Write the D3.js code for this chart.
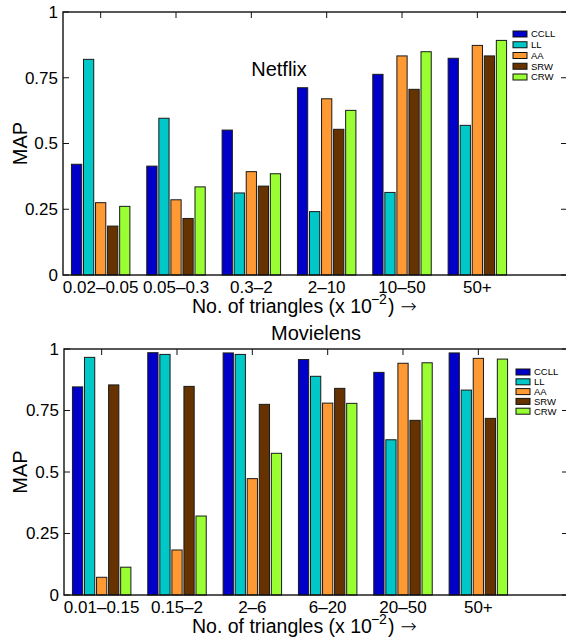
<!DOCTYPE html>
<html>
<head>
<meta charset="utf-8">
<script src="https://cdn.jsdelivr.net/npm/d3@7"></script>
<style>
    html, body { margin: 0; padding: 0; background: #fff; }
    svg { display: block; font-family: "Liberation Sans", Arial, Helvetica, sans-serif; }
</style>
</head>
<body>
<svg id="chart" width="566" height="639"></svg>
<script>
(function() {
"use strict";

var series = ['CCLL', 'LL', 'AA', 'SRW', 'CRW'];
var seriesColors = ['#0000c8', '#00c8c8', '#ff9933', '#663300', '#99ff33'];
var yTicks = [0, 0.25, 0.5, 0.75, 1];
var yTickLabels = ['0', '0.25', '0.5', '0.75', '1'];

var netflixCategories = ['0.02–0.05', '0.05–0.3', '0.3–2', '2–10', '10–50', '50+'];
var netflixCCLL = [0.421, 0.414, 0.551, 0.712, 0.763, 0.824];
var netflixLL   = [0.820, 0.596, 0.312, 0.241, 0.314, 0.569];
var netflixAA   = [0.275, 0.286, 0.393, 0.670, 0.833, 0.873];
var netflixSRW  = [0.186, 0.215, 0.338, 0.554, 0.706, 0.833];
var netflixCRW  = [0.261, 0.335, 0.385, 0.626, 0.849, 0.892];

var movielensCategories = ['0.01–0.15', '0.15–2', '2–6', '6–20', '20–50', '50+'];
var movielensCCLL = [0.846, 0.985, 0.984, 0.957, 0.905, 0.984];
var movielensLL   = [0.966, 0.978, 0.978, 0.889, 0.631, 0.833];
var movielensAA   = [0.072, 0.183, 0.473, 0.780, 0.942, 0.962];
var movielensSRW  = [0.854, 0.848, 0.775, 0.840, 0.710, 0.718];
var movielensCRW  = [0.113, 0.321, 0.576, 0.779, 0.944, 0.959];

var svg = d3.select('#chart');
var color = d3.scaleOrdinal().domain(series).range(seriesColors);

function drawPanel(opts) {
    var box = opts.box;
    var values = [opts.ccll, opts.ll, opts.aa, opts.srw, opts.crw];

    var x = d3.scaleLinear().domain([0.5, 7.19]).range([box.left, box.right]);
    var y = d3.scaleLinear().domain([0, 1]).range([box.bottom, box.top]);
    var step = x(2) - x(1);
    var x1 = d3.scaleBand()
                 .domain(series)
                 .range([-step * 0.388, step * 0.388])
                 .paddingInner(0.15);

    var g = svg.append('g');
    var tickLen = 6;

    // inward ticks on all four sides, drawn under the bars
    var ticks = g.append('g').attr('stroke', '#111').attr('stroke-width', 1);
    opts.categories.forEach(function(c, i) {
        var cx = x(i + 1);
        ticks.append('line').attr('x1', cx).attr('x2', cx).attr('y1', box.bottom).attr('y2', box.bottom - tickLen);
        ticks.append('line').attr('x1', cx).attr('x2', cx).attr('y1', box.top).attr('y2', box.top + tickLen);
    });
    yTicks.forEach(function(t) {
        ticks.append('line').attr('x1', box.left).attr('x2', box.left + tickLen).attr('y1', y(t)).attr('y2', y(t));
        ticks.append('line').attr('x1', box.right).attr('x2', box.right - tickLen).attr('y1', y(t)).attr('y2', y(t));
    });

    var groups = g.selectAll('.group')
                  .data(opts.categories)
                  .enter()
                  .append('g')
                      .attr('class', 'group')
                      .attr('transform', function(d, i) { return 'translate(' + x(i + 1) + ',0)'; });

    groups.selectAll('rect')
          .data(function(d, i) {
              return series.map(function(s, k) { return {key: s, value: values[k][i]}; });
          })
          .enter()
          .append('rect')
              .attr('x', function(d) { return x1(d.key); })
              .attr('y', function(d) { return y(d.value); })
              .attr('width', x1.bandwidth())
              .attr('height', function(d) { return y(0) - y(d.value); })
              .attr('fill', function(d) { return color(d.key); })
              .attr('stroke', '#1a1a1a')
              .attr('stroke-width', 1);

    g.append('rect')
        .attr('x', box.left)
        .attr('y', box.top)
        .attr('width', box.right - box.left)
        .attr('height', box.bottom - box.top)
        .attr('fill', 'none')
        .attr('stroke', '#111')
        .attr('stroke-width', 1.4);

    g.selectAll('.xtick')
        .data(opts.categories)
        .enter()
        .append('text')
            .attr('class', 'xtick')
            .attr('x', function(d, i) { return x(i + 1); })
            .attr('y', box.bottom + 18)
            .attr('text-anchor', 'middle')
            .attr('font-size', 17)
            .text(function(d) { return d; });

    g.selectAll('.ytick')
        .data(yTicks)
        .enter()
        .append('text')
            .attr('class', 'ytick')
            .attr('x', box.left - 5)
            .attr('y', function(d) { return y(d); })
            .attr('dy', '0.35em')
            .attr('text-anchor', 'end')
            .attr('font-size', 17)
            .text(function(d, i) { return yTickLabels[i]; });

    var xlabel = g.append('text')
                  .attr('x', 192)
                  .attr('y', box.bottom + 38)
                  .attr('font-size', 19.5);
    xlabel.append('tspan').text('No. of triangles (x 10');
    xlabel.append('tspan').attr('font-size', 14).attr('dy', -9).attr('dx', -1).text('−2');
    xlabel.append('tspan').attr('dy', 9).attr('dx', 1).text(')');
    xlabel.append('tspan').attr('dx', 6).attr('font-family', 'DejaVu Sans').attr('font-weight', 300).text('→');

    g.append('text')
        .attr('transform', 'translate(' + 27 + ',' + ((box.top + box.bottom) / 2) + ') rotate(-90)')
        .attr('text-anchor', 'middle')
        .attr('font-size', 20)
        .text('MAP');

    g.append('text')
        .attr('x', opts.titleX)
        .attr('y', opts.titleY)
        .attr('text-anchor', 'middle')
        .attr('font-size', 20)
        .text(opts.title);

    var legend = g.append('g')
                  .attr('transform', 'translate(' + opts.legendX + ',' + opts.legendY + ')');
    var items = legend.selectAll('.legend-item')
                      .data(series)
                      .enter()
                      .append('g')
                          .attr('class', 'legend-item')
                          .attr('transform', function(d, i) { return 'translate(0,' + (i * opts.legendStep) + ')'; });
    items.append('rect')
             .attr('x', 0)
             .attr('y', -3)
             .attr('width', 14)
             .attr('height', 6)
             .attr('fill', function(d) { return color(d); })
             .attr('stroke', '#111')
             .attr('stroke-width', 1);
    items.append('text')
             .attr('x', 18)
             .attr('dy', '0.35em')
             .attr('font-size', 9.5)
             .text(function(d) { return d; });
}

drawPanel({
    box: {left: 63, right: 567, top: 12, bottom: 275},
    categories: netflixCategories,
    ccll: netflixCCLL, ll: netflixLL, aa: netflixAA, srw: netflixSRW, crw: netflixCRW,
    title: 'Netflix', titleX: 279, titleY: 76,
    legendX: 513, legendY: 34, legendStep: 10.75
});

drawPanel({
    box: {left: 64, right: 568, top: 349, bottom: 595},
    categories: movielensCategories,
    ccll: movielensCCLL, ll: movielensLL, aa: movielensAA, srw: movielensSRW, crw: movielensCRW,
    title: 'Movielens', titleX: 316, titleY: 340,
    legendX: 516, legendY: 372, legendStep: 9.8
});

}());
</script>
</body>
</html>
